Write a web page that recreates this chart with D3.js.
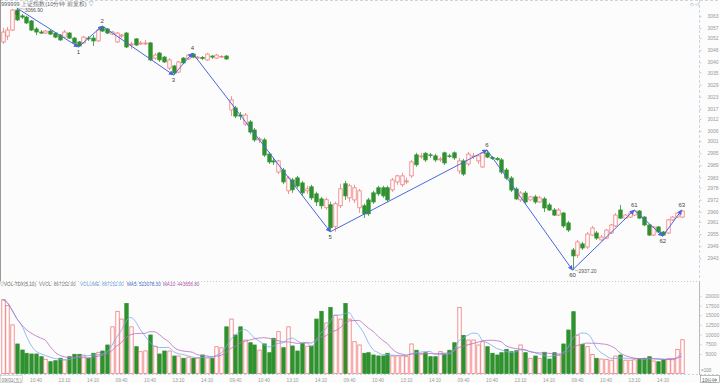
<!DOCTYPE html>
<html><head><meta charset="utf-8">
<script src="https://cdn.jsdelivr.net/npm/d3@7"></script>
<style>
body{margin:0;background:#fcfcfc}
svg{display:block}
text{font-family:"Liberation Sans",Arial,sans-serif}
</style></head>
<body><svg id="c" width="720" height="383"></svg>
<script>
// ---- DATA (10-minute bars, 6 sessions) ----
const opens = [3050.1,3053.0,3056.0,3065.9,3063.0,3062.4,3060.5,3056.5,3055.0,3054.5,3055.5,3054.5,3053.5,3052.5,3054.5,3052.0,3050.1,3049.6,3052.0,3052.0,3050.6,3057.5,3056.5,3054.0,
3050.1,3053.0,3054.5,3048.6,3051.6,3049.1,3049.1,3049.6,3042.1,3044.6,3042.6,3037.2,3038.2,3035.2,3042.1,3041.7,3044.1,3042.1,3042.4,3041.2,3043.1,3042.1,3042.6,3043.1,
3016.4,3017.4,3013.9,3009.5,3010.5,3006.5,3001.6,3001.6,2994.6,2991.2,2985.7,2986.7,2976.4,2981.8,2982.8,2980.3,2976.4,2978.4,2974.9,2972.4,2968.0,2969.5,2958.6,2969.0,
2979.9,2972.9,2971.9,2968.0,2969.0,2971.9,2975.4,2977.9,2977.9,2977.9,2976.9,2980.8,2979.4,2980.8,2983.8,2994.2,2993.2,2995.0,2994.2,2993.7,2991.7,2995.2,2993.7,2995.2,
2986.2,2991.2,2989.7,2993.4,2991.2,2988.2,2995.1,2992.9,2992.4,2991.7,2986.7,2982.7,2977.3,2971.9,2975.3,2971.9,2973.4,2970.9,2972.4,2969.4,2966.9,2964.4,2965.4,2960.5,
2947.1,2944.6,2950.1,2948.6,2954.5,2955.5,2952.1,2953.0,2955.5,2959.0,2966.9,2962.9,2963.4,2964.4,2966.4,2963.4,2959.5,2954.5,2958.5,2956.0,2955.5,2962.0,2963.4,2963.4];
const highs = [3057.0,3057.5,3066.4,3066.9,3063.9,3063.0,3061.0,3057.5,3056.0,3056.0,3056.0,3055.0,3054.0,3056.0,3055.0,3052.5,3050.6,3053.0,3053.0,3053.5,3056.5,3058.0,3057.0,3055.5,
3055.0,3054.0,3055.0,3050.1,3052.0,3050.6,3051.1,3050.1,3044.6,3045.1,3043.1,3042.1,3038.7,3040.7,3042.6,3044.1,3044.6,3043.1,3043.1,3044.6,3043.6,3044.1,3043.6,3043.6,
3023.3,3018.4,3015.4,3014.9,3011.5,3007.5,3003.1,3002.6,2995.6,2992.7,2991.7,2987.7,2983.8,2982.8,2983.8,2981.3,2978.9,2979.4,2975.9,2973.4,2973.0,2971.0,2971.0,2979.9,
2981.3,2979.9,2979.4,2977.4,2970.0,2972.9,2976.4,2978.9,2978.9,2978.9,2982.8,2984.3,2985.3,2982.8,2991.7,2995.2,2995.2,2995.5,2995.2,2994.7,2993.2,2995.8,2994.7,2995.9,
2992.7,2992.2,2995.6,2995.2,2994.2,2995.6,2996.6,2993.6,2993.1,2992.6,2987.7,2983.7,2978.3,2976.3,2976.3,2973.9,2974.4,2973.9,2973.4,2970.4,2967.9,2967.9,2965.9,2961.5,
2948.1,2952.1,2951.1,2956.0,2959.0,2956.5,2954.5,2957.5,2960.0,2965.4,2969.4,2964.9,2965.9,2966.9,2966.9,2963.9,2960.0,2959.0,2959.0,2956.5,2962.5,2963.9,2965.9,2966.9];
const lows = [3049.1,3051.1,3055.5,3060.5,3061.5,3059.0,3055.5,3053.5,3054.0,3054.0,3053.5,3052.0,3050.6,3052.0,3051.6,3049.1,3047.6,3049.1,3050.6,3048.1,3050.1,3055.0,3054.0,3053.5,
3049.6,3052.0,3047.1,3046.6,3048.1,3048.6,3048.6,3040.7,3041.2,3040.2,3039.7,3036.2,3033.7,3034.7,3039.2,3041.2,3042.1,3041.7,3041.2,3040.7,3041.7,3041.7,3042.1,3041.2,
3013.4,3012.4,3011.5,3008.5,3004.5,3000.6,3000.1,2993.2,2989.7,2989.2,2984.7,2979.8,2974.8,2975.4,2977.9,2973.9,2974.9,2971.9,2968.9,2967.5,2967.0,2956.1,2956.1,2967.9,
2971.9,2970.9,2970.4,2965.5,2963.0,2964.0,2969.9,2973.9,2972.9,2970.9,2975.9,2979.4,2978.4,2979.8,2982.8,2988.3,2992.2,2990.7,2992.7,2990.7,2990.7,2989.2,2992.7,2991.7,
2984.7,2983.8,2988.7,2992.2,2989.7,2987.7,2992.6,2991.7,2991.2,2984.7,2981.8,2975.8,2971.9,2970.9,2969.9,2971.4,2969.9,2970.4,2965.9,2966.4,2963.9,2963.9,2958.0,2956.0,
2937.2,2943.2,2947.1,2947.6,2954.0,2952.1,2951.6,2952.6,2955.0,2958.5,2962.5,2962.5,2962.9,2963.9,2962.5,2959.0,2954.0,2954.0,2955.5,2954.0,2955.0,2961.5,2962.9,2962.9];
const closes = [3055.0,3056.0,3065.9,3061.0,3062.4,3059.5,3056.0,3055.0,3054.5,3055.5,3054.0,3052.5,3051.1,3055.0,3052.0,3049.6,3048.1,3052.5,3051.6,3050.6,3056.0,3055.5,3054.5,3055.0,
3054.5,3053.5,3047.6,3049.1,3048.6,3049.6,3049.6,3041.2,3043.6,3041.2,3040.2,3041.2,3034.7,3040.2,3039.7,3043.6,3042.6,3042.6,3041.9,3044.1,3042.6,3043.6,3042.9,3041.7,
3021.4,3013.4,3013.4,3013.9,3005.5,3001.6,3002.1,2994.1,2990.7,2990.7,2991.2,2980.8,2982.8,2976.9,2978.8,2975.4,2977.4,2972.9,2970.9,2969.0,2972.0,2958.1,2970.0,2977.4,
2973.9,2978.9,2977.9,2976.4,2965.0,2965.0,2970.9,2974.9,2973.9,2971.9,2981.8,2983.8,2983.8,2981.3,2990.7,2989.3,2993.7,2991.7,2994.0,2991.7,2992.2,2990.2,2993.4,2992.7,
2991.2,2984.7,2994.6,2993.7,2993.7,2995.1,2993.1,2992.4,2991.9,2985.7,2982.7,2976.8,2972.4,2975.3,2970.9,2973.4,2970.9,2972.9,2967.9,2966.9,2964.4,2966.9,2959.0,2957.0,
2944.2,2951.1,2948.1,2955.0,2958.0,2953.0,2953.5,2957.0,2959.5,2964.4,2962.9,2964.4,2965.4,2966.4,2962.9,2959.5,2954.5,2958.5,2956.0,2954.5,2962.0,2963.4,2965.4,2966.4];
// volume in hundreds (axis unit)
const volumes = [19000,17500,12500,7580,6030,5180,5000,5000,4300,3630,3015,3270,3890,3500,4300,4920,4920,4700,3890,5180,5440,5770,7320,12000,
16000,14000,18000,12000,6880,5590,5800,9900,7000,5000,5770,5770,4480,4480,3890,4200,3890,3900,4740,4000,3890,6880,6600,12000,
14000,9900,12000,8600,7900,7320,6000,7600,5330,9040,10750,6620,12000,7060,5770,7760,7000,7060,14000,16000,13000,17000,15000,14000,
18000,14000,8170,7320,5180,5330,4740,4500,4500,5180,4500,4500,4500,4300,7580,5960,5000,5330,4300,4300,5600,5000,5960,7900,
17000,9800,8600,8600,7320,8170,6880,5180,4740,5330,6200,5590,5850,7320,5330,3890,4480,3890,5440,3700,5330,4740,7580,11180,
15900,9900,7500,6880,4900,3890,3700,3630,3400,4480,4740,3400,3400,3500,3822,3890,4300,3200,3000,3600,3800,3882.4,6200,8671.52];
// zigzag pivots: bar index, kind (H/L), label
const pivotBars   = [3,16,21,36,40,69,102,120,133,139,143];
const pivotKinds  = ["H","L","H","L","H","L","H","L","H","L","H"];
const pivotLabels = ["0","1","2","3","4","5","6","60","61","62","63"];
const priceTicks = [3063,3057,3052,3046,3040,3035,3029,3023,3017,3012,3006,3001,2995,2989,2983,2978,2972,2966,2961,2955,2949,2943];
const volTicks = [5000,7500,10000,12500,15000,17500,20000];
const timeTickBars = [6,12,18,24,30,36,42,48,54,60,66,72,78,84,90,96,102,108,114,120,126,132,138];
const timeTickLabels = ["10:40","13:10","14:10","09:40","10:40","13:10","14:10","09:40","10:40","13:10","14:10","09:40","10:40","13:10","14:10","09:40","10:40","13:10","14:10","09:40","10:40","13:10","14:10"];
const firstDate = "09/01(五)";
const title = "999999 上证指数(10分钟 前复权) ▽";
const volHeader = [["▽VOL-TDX(5,10)","#666"],["VVOL: 867152.00","#777"],["VOLUME: 867152.00","#6b9be0"],["MA5: 523078.30","#4466cc"],["MA10: 443658.80","#b24fb2"]];
const volHeaderX = [0,39,80,127,163];

// ---- DRAW ----
const W=720,H=383, axisX=699.5;
const svg=d3.select("#c");
svg.append("rect").attr("width",W).attr("height",H).attr("fill","#fcfcfc");
const n=opens.length;
const xb=d3.scaleBand().domain(d3.range(n)).range([0.125,0.125+4.75*n]);
const cx=i=>xb(i)+xb.bandwidth()/2;
const bw=3.4;
const y=d3.scaleLinear().domain([2937.2,3066.9]).range([270,8]);
const yv=d3.scaleLinear().domain([0,20000]).range([373.4,295.8]);
const RED="#f07a7a", GREEN="#2f922f";

// frame lines
const frame=svg.append("g").attr("fill","none");
frame.append("line").attr("x1",0).attr("x2",W).attr("y1",0.5).attr("y2",0.5).attr("stroke","#c9d6e3").attr("stroke-dasharray","3,2");
frame.append("line").attr("x1",axisX).attr("x2",axisX).attr("y1",0).attr("y2",280).attr("stroke","#c9d6e3").attr("stroke-dasharray","3,2");
frame.append("line").attr("x1",0.5).attr("x2",0.5).attr("y1",0).attr("y2",282).attr("stroke","#999");
frame.append("line").attr("x1",0).attr("x2",axisX).attr("y1",281.5).attr("y2",281.5).attr("stroke","#b8d8b8").attr("stroke-dasharray","1,2");
frame.append("line").attr("x1",axisX).attr("x2",axisX).attr("y1",281).attr("y2",375).attr("stroke","#bbb");
frame.append("line").attr("x1",0).attr("x2",W).attr("y1",374.5).attr("y2",374.5).attr("stroke","#c9d6e3").attr("stroke-dasharray","2,2");

// title
svg.append("text").attr("x",1).attr("y",6).attr("font-size",5.6).attr("fill","#666").text(title);
svg.append("text").attr("x",690).attr("y",6).attr("font-size",5).attr("fill","#999").text("◇ ◁");

// price axis
const pa=svg.append("g").attr("transform",`translate(${axisX},0)`)
 .call(d3.axisRight(y).tickValues(priceTicks).tickSize(2).tickPadding(6).tickFormat(d3.format("d")));
pa.select(".domain").remove();
pa.selectAll("line").attr("stroke","#c0ccd8");
pa.selectAll("text").attr("font-size",5).attr("fill","#999").attr("font-family","Liberation Sans");

// candles
const cg=svg.append("g");
d3.range(n).forEach(i=>{
  const up=closes[i]>=opens[i], col=up?RED:GREEN;
  const top=y(Math.max(opens[i],closes[i])), bot=y(Math.min(opens[i],closes[i]));
  const xc=Math.round(cx(i))+0.5;
  cg.append("line").attr("x1",xc).attr("x2",xc).attr("y1",y(highs[i])).attr("y2",top).attr("stroke",col).attr("stroke-width",0.8);
  cg.append("line").attr("x1",xc).attr("x2",xc).attr("y1",bot).attr("y2",y(lows[i])).attr("stroke",col).attr("stroke-width",0.8);
  cg.append("rect").attr("x",xc-bw/2).attr("y",top).attr("width",bw).attr("height",Math.max(0.6,bot-top))
    .attr("fill",up?"#fff":GREEN).attr("stroke",col).attr("stroke-width",0.8);
});

// zigzag
const defs=svg.append("defs");
defs.append("marker").attr("id","arr").attr("viewBox","0 0 10 10").attr("refX",9).attr("refY",5)
 .attr("markerWidth",5).attr("markerHeight",5).attr("markerUnits","userSpaceOnUse").attr("orient","auto")
 .append("path").attr("d","M0,0L10,5L0,10z").attr("fill","#4a66dd");
const pv=pivotBars.map((b,k)=>({x:cx(b),y:y(pivotKinds[k]==="H"?highs[b]:lows[b]),k}));
const zg=svg.append("g");
for(let k=1;k<pv.length;k++){
  zg.append("line").attr("x1",pv[k-1].x).attr("y1",pv[k-1].y).attr("x2",pv[k].x).attr("y2",pv[k].y)
   .attr("stroke","#4a66dd").attr("stroke-width",1).attr("marker-end","url(#arr)");
}
pv.forEach((p,k)=>{
  const below = pivotKinds[k]==="L" || k===0;
  zg.append("text").attr("x",p.x).attr("y",below?p.y+7:p.y-3).attr("text-anchor","middle")
   .attr("font-size",6).attr("fill","#444").text(pivotLabels[k]);
});
// extreme annotations
const hiI=d3.maxIndex(highs), loI=d3.minIndex(lows);
svg.append("line").attr("x1",cx(hiI)+2).attr("x2",cx(hiI)+8).attr("y1",y(highs[hiI])).attr("y2",y(highs[hiI])+1.5).attr("stroke","#888").attr("stroke-width",0.5);
svg.append("text").attr("x",cx(hiI)+8).attr("y",y(highs[hiI])+3.5).attr("font-size",5).attr("fill","#555").text(d3.format(".2f")(highs[hiI]));
svg.append("line").attr("x1",cx(loI)+2).attr("x2",cx(loI)+6).attr("y1",y(lows[loI])).attr("y2",y(lows[loI])+1).attr("stroke","#888").attr("stroke-width",0.5);
svg.append("text").attr("x",cx(loI)+6).attr("y",y(lows[loI])+3).attr("font-size",5).attr("fill","#555").text(d3.format(".2f")(lows[loI]));

// volume header
volHeader.forEach((h,k)=>svg.append("text").attr("x",volHeaderX[k]).attr("y",286).attr("font-size",4.6).attr("fill",h[1]).text(h[0]));

// volume bars
const vg=svg.append("g");
d3.range(n).forEach(i=>{
  const up=closes[i]>=opens[i];
  const xc=Math.round(cx(i))+0.5;
  vg.append("rect").attr("x",xc-bw/2).attr("y",yv(volumes[i])).attr("width",bw).attr("height",yv(0)-yv(volumes[i]))
   .attr("fill",up?"#fff":GREEN).attr("stroke",up?RED:GREEN).attr("stroke-width",0.8);
});
// moving averages
function ma(p){return volumes.map((v,i)=>d3.mean(volumes.slice(Math.max(0,i-p+1),i+1)));}
const line=d3.line().x((d,i)=>cx(i)).y(d=>yv(d)).curve(d3.curveMonotoneX);
svg.append("path").attr("d",line(ma(5))).attr("fill","none").attr("stroke","#7aaaf0").attr("stroke-width",0.8);
svg.append("path").attr("d",line(ma(10))).attr("fill","none").attr("stroke","#b86cc0").attr("stroke-width",0.8);

// volume axis
const va=svg.append("g").attr("transform",`translate(${axisX},0)`)
 .call(d3.axisRight(yv).tickValues(volTicks).tickSize(2).tickPadding(4).tickFormat(d3.format("d")));
va.select(".domain").remove();
va.selectAll("line").attr("stroke","#c0ccd8");
va.selectAll("text").attr("font-size",5).attr("fill","#999").attr("font-family","Liberation Sans");
svg.append("text").attr("x",701).attr("y",372).attr("font-size",4.6).attr("fill","#888").text("×100");

// time axis
const tg=svg.append("g");
timeTickBars.forEach((b,k)=>tg.append("text").attr("x",cx(b)-1).attr("y",381.5).attr("font-size",4.8).attr("fill","#999").text(timeTickLabels[k]));
tg.append("rect").attr("x",0.5).attr("y",375.5).attr("width",22).attr("height",7).attr("fill","#fff").attr("stroke","#bbb").attr("stroke-width",0.5);
tg.append("text").attr("x",1.5).attr("y",381.5).attr("font-size",4.8).attr("fill","#777").text(firstDate);
tg.append("rect").attr("x",700.5).attr("y",375.5).attr("width",19).attr("height",7).attr("fill","#fff").attr("stroke","#777").attr("stroke-width",0.5);
tg.append("text").attr("x",702).attr("y",381.5).attr("font-size",4.8).attr("fill","#555").text("10分钟");
</script></body></html>
